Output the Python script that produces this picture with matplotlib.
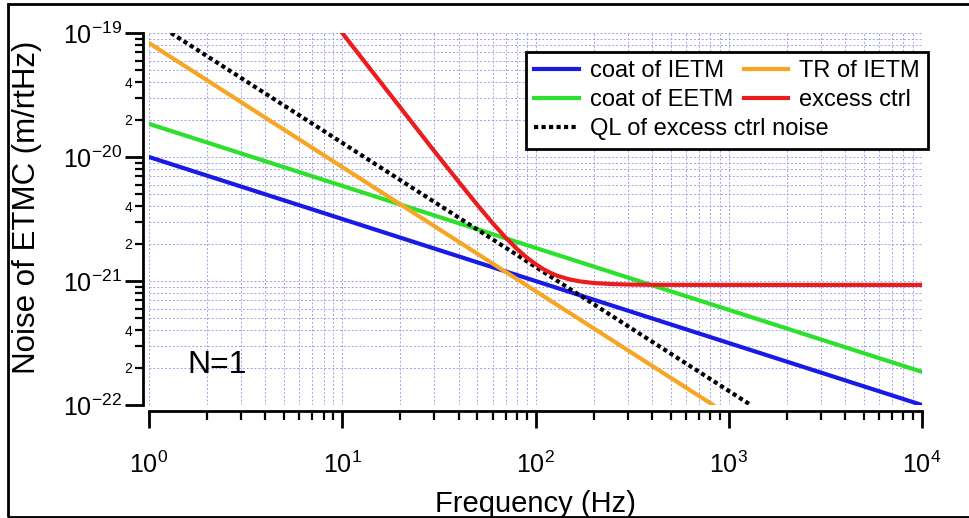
import math
import matplotlib
matplotlib.use("Agg")
import matplotlib.pyplot as plt
import matplotlib.ticker as mticker
from matplotlib.patches import Rectangle

plt.rcParams['font.family'] = ['Liberation Sans', 'DejaVu Sans']
plt.rcParams['mathtext.fontset'] = 'custom'
plt.rcParams['mathtext.rm'] = 'Liberation Sans'
plt.rcParams['mathtext.it'] = 'Liberation Sans:italic'

# values
freq_coat_ietm = [1, 1e4]
coat_ietm = [1.0e-20, 1.0e-22]

freq_coat_eetm = [1, 1e4]
coat_eetm = [1.85e-20, 1.85e-22]

freq_tr_ietm = [1, 830]
tr_ietm = [8.3e-20, 1.0e-22]

freq_ql = [1.3, 1300]
ql_excess = [1.0e-19, 1.0e-22]

freq_excess = [10, 15, 20, 30, 40, 50, 60, 70, 80, 90, 100, 110, 120, 130, 150,
               170, 200, 250, 300, 400, 500, 1000, 1e4]
excess_ctrl = [1.0e-19, 4.44e-20, 2.5e-20, 1.11e-20, 6.32e-21, 4.11e-21, 2.93e-21,
               2.24e-21, 1.82e-21, 1.55e-21, 1.37e-21, 1.244e-21, 1.16e-21, 1.10e-21,
               1.03e-21, 9.92e-22, 9.63e-22, 9.44e-22, 9.37e-22, 9.32e-22, 9.31e-22,
               9.3e-22, 9.3e-22]

x_decades = [1, 10, 100, 1000, 10000]
y_decades = [1e-22, 1e-21, 1e-20, 1e-19]

fig = plt.figure(figsize=(9.7, 5.18), dpi=100)
ax = fig.add_axes([149/970, 1 - 405/518, 773/970, 372/518])

lw = 3
ax.plot(freq_coat_ietm, coat_ietm, color='#1a1ae6', lw=lw, label='coat of IETM')
ax.plot(freq_coat_eetm, coat_eetm, color='#2ee02e', lw=lw, label='coat of EETM')
ax.plot(freq_ql, ql_excess, color='black', lw=lw, linestyle=(0, (1, 0.8)),
        label='QL of excess ctrl noise')
ax.plot(freq_tr_ietm, tr_ietm, color='#f7a623', lw=lw, label='TR of IETM')
ax.plot(freq_excess, excess_ctrl, color='#ec1c1c', lw=lw, label='excess ctrl')

ax.set_xscale('log')
ax.set_yscale('log')
ax.set_xlim(1, 1e4)
ax.set_ylim(1e-22, 1e-19)

ax.xaxis.set_major_locator(mticker.FixedLocator(x_decades))
ax.xaxis.set_major_formatter(mticker.LogFormatterSciNotation())
ax.xaxis.set_minor_locator(mticker.LogLocator(base=10, subs=range(2, 10), numticks=20))
ax.xaxis.set_minor_formatter(mticker.NullFormatter())
ax.yaxis.set_major_locator(mticker.FixedLocator(y_decades))
ax.yaxis.set_major_formatter(mticker.LogFormatterSciNotation())
ax.yaxis.set_minor_locator(mticker.LogLocator(base=10, subs=range(2, 10), numticks=20))


def minor_label(v, pos):
    if v < 1e-22 or v > 1e-19:
        return ''
    m = round(v / 10 ** math.floor(math.log10(v) + 1e-9))
    return str(m) if m in (2, 4) else ''


ax.yaxis.set_minor_formatter(mticker.FuncFormatter(minor_label))

for side in ['top', 'right']:
    ax.spines[side].set_visible(False)
for side in ['left', 'bottom']:
    ax.spines[side].set_position(('outward', 4.3))
    ax.spines[side].set_linewidth(2)

ax.tick_params(axis='x', which='major', direction='out', length=12, width=2,
               labelsize=18, pad=17)
ax.tick_params(axis='x', which='minor', direction='out', length=6.5, width=1.6)
ax.tick_params(axis='y', which='major', direction='out', length=13, width=2,
               labelsize=18, pad=2)
ax.tick_params(axis='y', which='minor', direction='out', length=6, width=1.6,
               labelsize=10, pad=2)

ax.grid(True, which='both', color='#a0a0ee', linestyle=(0, (2, 2)), linewidth=0.7)

ax.set_xlabel('Frequency (Hz)', fontsize=21)
ax.xaxis.set_label_coords(0.5, -0.228)
ax.set_ylabel('Noise of ETMC (m/rtHz)', fontsize=22.5)
ax.yaxis.set_label_coords(-0.138, 0.532)

ax.text(0.049, 0.107, 'N=1', transform=ax.transAxes, fontsize=23,
        ha='left', va='center')

leg = ax.legend(ncol=2, loc='upper right', bbox_to_anchor=(1.0078, 0.949),
                borderaxespad=0, fontsize=17, handlelength=1.9,
                handletextpad=0.45, columnspacing=-3.6, labelspacing=0.3,
                borderpad=0.35, fancybox=False, framealpha=1)
leg.get_frame().set_edgecolor('black')
leg.get_frame().set_linewidth(2)

fig.patches.append(Rectangle((8/970, 1/518), 970, 513/518, transform=fig.transFigure,
                             fill=False, lw=2, ec='black'))

fig.savefig('out.png', dpi=100)
